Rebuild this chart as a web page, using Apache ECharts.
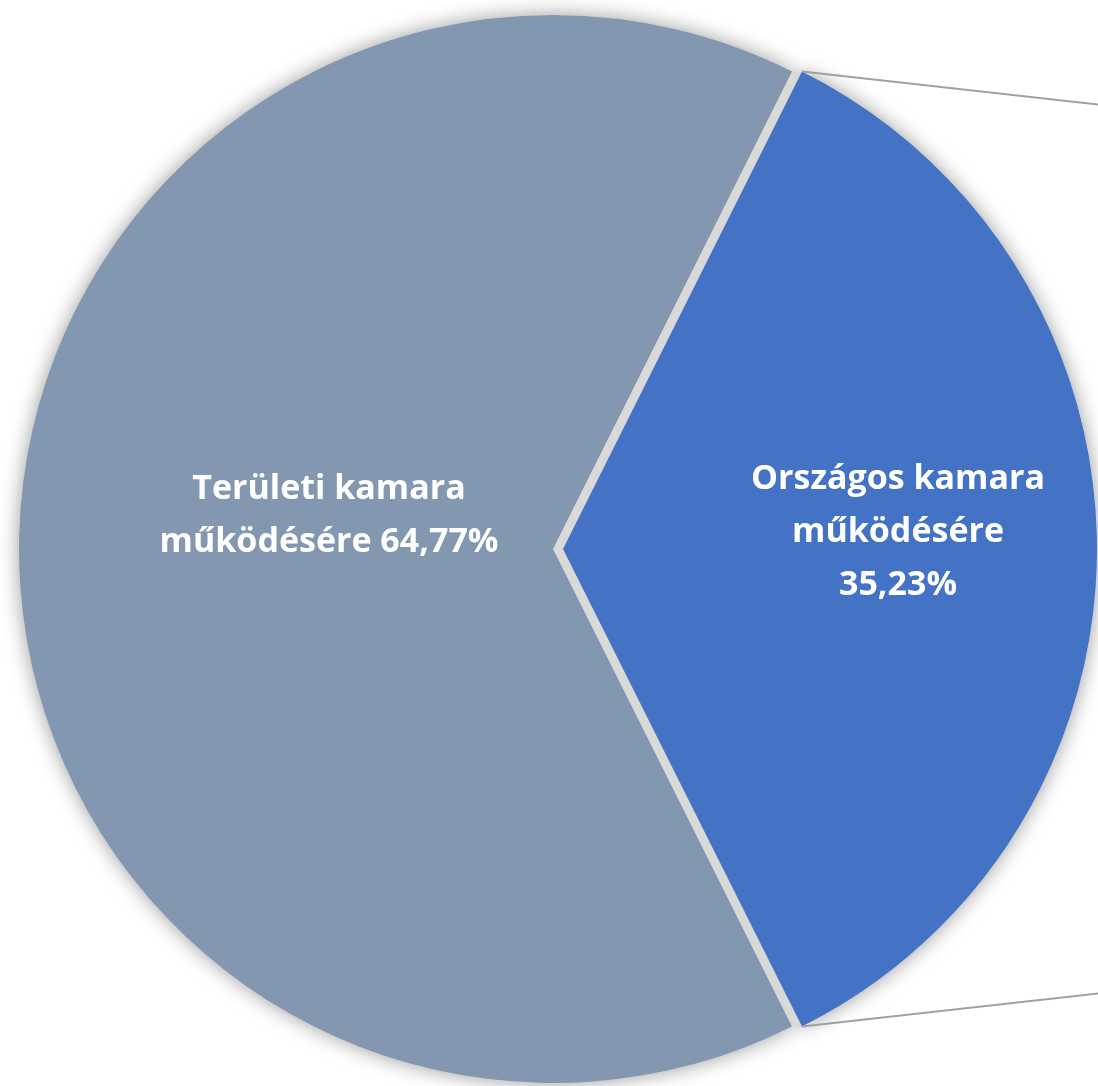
<!DOCTYPE html>
<html>
<head>
<meta charset="utf-8">
<script src="https://cdn.jsdelivr.net/npm/echarts@6/dist/echarts.min.js"></script>
<style>
html,body{margin:0;padding:0;background:#fff;}
#chart{width:1098px;height:1086px;}
</style>
</head>
<body>
<div id="chart"></div>
<script>
const categories = ['Országos kamara működésére', 'Területi kamara működésére'];
const values = [35.23, 64.77];
const labelTexts = ['Országos kamara\nműködésére\n35,23%', 'Területi kamara\nműködésére 64,77%'];
const sliceColors = ['#4472C4', '#8497B0'];
const explodedIndex = 0;

const cx = 553, cy = 549, R = 534;
const explode = 10;
const total = values.reduce((a, b) => a + b, 0);
const halfAngle = values[0] / total * 180; // first slice centred on the east side

const chart = echarts.init(document.getElementById('chart'));

function makeData(withColors) {
  return categories.map((c, i) => ({
    name: c,
    value: values[i],
    selected: i === explodedIndex,
    itemStyle: { color: withColors ? sliceColors[i] : '#d9d9d9' },
    label: { formatter: labelTexts[i] }
  }));
}

// pie-of-pie connector lines, starting at the corners of the exploded slice
const rad = halfAngle * Math.PI / 180;
const ex = cx + explode;
const topPt = [ex + R * Math.cos(rad), cy - R * Math.sin(rad)];
const botPt = [ex + R * Math.cos(rad), cy + R * Math.sin(rad)];
const connSlope = 0.112;
const rightX = 1110;

const common = {
  type: 'pie',
  center: [cx, cy],
  startAngle: halfAngle,
  selectedMode: 'single',
  selectedOffset: explode,
  emphasis: { disabled: true },
  labelLine: { show: false }
};

chart.setOption({
  animation: false,
  backgroundColor: '#ffffff',
  series: [
    Object.assign({}, common, {
      // soft outer shadow
      silent: true,
      z: 1,
      radius: [0, R],
      label: { show: false },
      itemStyle: {
        shadowBlur: 20,
        shadowColor: 'rgba(0,0,0,0.4)'
      },
      data: makeData(false)
    }),
    Object.assign({}, common, {
      // grey filler between the slices
      silent: true,
      z: 2,
      radius: [0, R - 5],
      label: { show: false },
      itemStyle: {
        borderColor: '#d9d9d9',
        borderWidth: 10,
        borderJoin: 'miter'
      },
      data: makeData(false)
    }),
    Object.assign({}, common, {
      z: 3,
      silent: true,
      radius: [0, R],
      label: {
        show: true,
        position: 'inside',
        color: '#ffffff',
        fontFamily: '"Open Sans", "DejaVu Sans", sans-serif',
        fontWeight: 'bold',
        fontSize: 34,
        lineHeight: 53,
        align: 'center'
      },
      labelLayout: function (params) {
        if (params.dataIndex === 0) return { dx: 65, dy: -17 };
        return { dx: 46, dy: -33 };
      },
      data: makeData(true)
    })
  ],
  graphic: [
    {
      type: 'line',
      z: 10,
      shape: { x1: topPt[0], y1: topPt[1], x2: rightX, y2: topPt[1] + (rightX - topPt[0]) * connSlope },
      style: { stroke: '#a0a0a0', lineWidth: 2 }
    },
    {
      type: 'line',
      z: 10,
      shape: { x1: botPt[0], y1: botPt[1], x2: rightX, y2: botPt[1] - (rightX - botPt[0]) * connSlope },
      style: { stroke: '#a0a0a0', lineWidth: 2 }
    }
  ]
});
</script>
</body>
</html>
